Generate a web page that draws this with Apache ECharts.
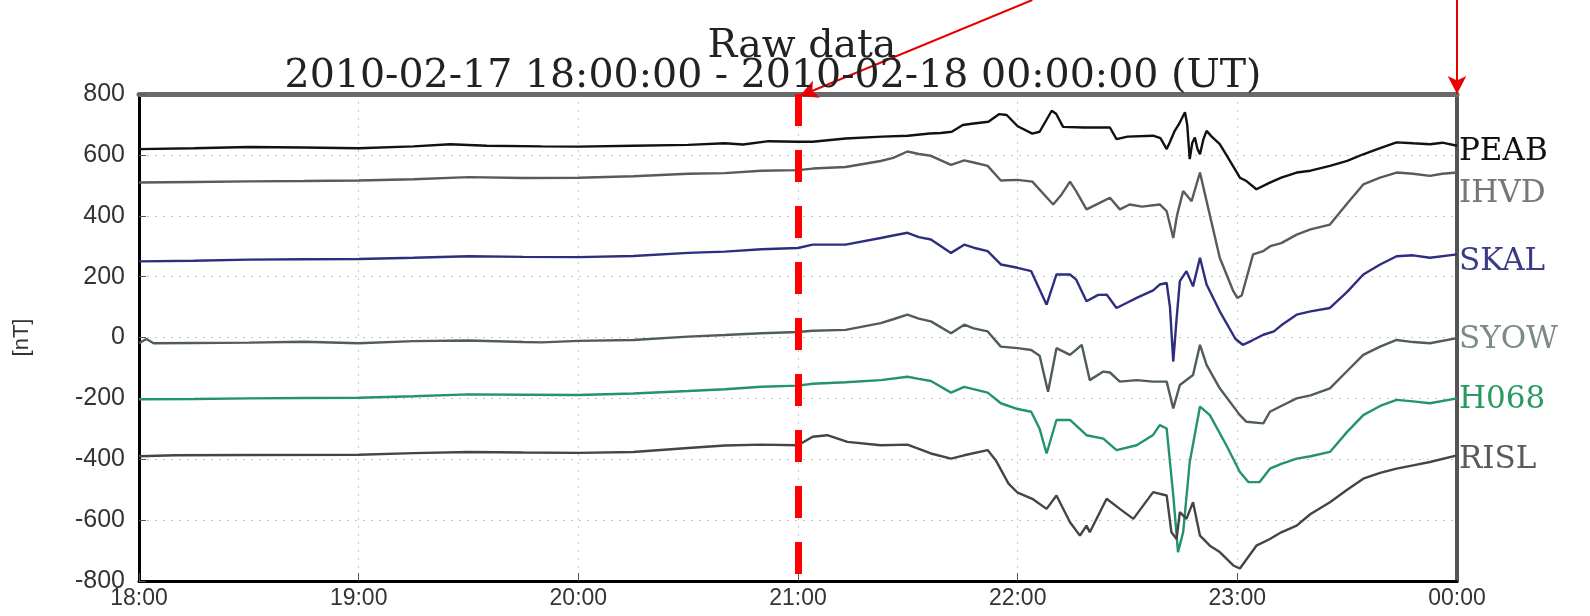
<!DOCTYPE html>
<html>
<head>
<meta charset="utf-8">
<script src="https://cdn.jsdelivr.net/npm/echarts@6/dist/echarts.min.js"></script>
<style>html,body{margin:0;padding:0;background:#fff}#c{width:1590px;height:616px}</style>
</head>
<body>
<div id="c"></div>
<script>
// x = minutes after 2010-02-17 18:00 UT
const timeTicks = ['18:00', '19:00', '20:00', '21:00', '22:00', '23:00', '00:00'];
const stationNames = ['PEAB', 'IHVD', 'SKAL', 'SYOW', 'H068', 'RISL'];

const peab = [[0,619],[15,622],[30,626],[45,624],[60,622],[75,628],[85,635],[95,630],[110,628],[120,627],[135,630],[150,633],[160,638],[165,634],[172,645],[180,643],
[184,643],[193,654],[203,660],[210,663],[216,670],[219,672],[222,676],[225,698],[228,703],[232,709],[235,734],[237,731],[240,694],[244,670],[246,676],[249.3,745],[250.5,735],[252.4,692],[258,690],[265.2,690],[267,652],[270,660],[277,663],[279,655],[280.7,619],[281.5,640],[282.9,679],[284,700],[285.7,740],[286.3,700],[287,586],[287.7,640],[288.4,657],[289.1,620],[289.8,602],[290.7,650],[291.6,679],[293,660],[295.2,635],[297,600],[300.7,525],
[302.5,514],[305.2,487],[308.9,509],[312,525],[316.2,542],[320,548],[325.3,564],[330,580],[334.4,602],[339,622],[343.5,641],[348,638],[352.6,635],[356,640],[360,630]];

const ihvd = [[0,509],[15,511],[30,513],[45,514],[60,516],[75,520],[90,527],[105,524],[120,525],[135,530],[150,538],[160,540],[170,548],[180,550],
[184,555],[193,560],[202.6,580],[206,590],[209.9,611],[213,603],[216.3,597],[221.8,567],[225.4,582],[228,575],[231.8,564],[235.4,516],[240,518],[244,512],
[249.7,437],[252,470],[254.3,512],[256,480],[258.8,421],[262,440],[265.2,459],[267.9,421],[270.6,437],[274,430],[278.8,437],[280.7,415],[282.5,327],[283.5,400],[285.2,481],[286,470],[287.5,448],[289.8,542],[291.6,448],[295.2,262],[298.9,152],[300,130],
[301.2,138],[304.3,273],[307.1,284],[309,300],[312,310],[316.2,338],[320,355],[325.3,371],[330,440],[334.4,503],[339,525],[343.5,542],[348,538],[352.6,531],[356,538],[360,542]];

const skal = [[0,250],[15,252],[30,256],[45,257],[60,258],[75,262],[90,267],[105,265],[120,264],[135,268],[150,278],[160,282],[170,290],[180,294],
[184,305],[193,305],[202.6,327],[206,335],[209.9,344],[213,330],[216.3,322],[221.8,278],[225.4,305],[228,295],[231.8,284],[235.4,240],[240,229],[243.7,218],
[247.9,108],[250.6,207],[254.3,207],[256,190],[258.8,119],[262,140],[264.3,141],[267,97],[270,115],[272.5,130],[277,155],[278.8,174],[280.7,179],[281.6,100],[282.5,-79],[283.4,60],[284.3,185],[286.1,218],[287.9,168],[289.8,262],[291.6,174],[295.2,86],[299.5,-5],
[301.5,-24],[304,-10],[307.1,9],[310,20],[312,40],[316.2,75],[320,86],[325.3,97],[330,150],[334.4,207],[339,240],[343.5,267],[348,270],[352.6,262],[360,273]];

const syow = [[0,-19],[2,-5],[4,-19],[15,-18],[30,-17],[45,-14],[60,-19],[75,-12],[90,-10],[105,-15],[110,-16],[120,-11],[135,-8],[150,3],[160,8],[170,14],[180,18],
[184,22],[193,25],[202.6,47],[206,60],[209.9,75],[213,62],[216.3,53],[221.8,14],[225.4,42],[228,30],[231.8,20],[235.4,-30],[240,-35],[243.7,-41],
[246,-60],[248.3,-178],[250.6,-35],[254.3,-57],[256,-40],[257.5,-24],[259.7,-140],[263.4,-112],[265.2,-115],[267.9,-145],[272.5,-140],[277,-145],[280.7,-145],[282.5,-233],[284.3,-156],[287.9,-123],[289.8,-24],[291.6,-90],[295.2,-167],[300.7,-255],
[302.5,-277],[307.1,-282],[308.9,-244],[312,-225],[316.2,-200],[320,-190],[325.3,-167],[330,-110],[334.4,-57],[339,-30],[343.5,-8],[348,-15],[352.6,-19],[360,-2]];

const h068 = [[0,-203],[15,-202],[30,-200],[45,-199],[60,-198],[75,-193],[90,-187],[105,-188],[120,-189],[135,-184],[150,-176],[160,-170],[170,-162],[180,-158],
[184,-152],[193,-147],[202.6,-140],[209.9,-129],[213,-136],[216.3,-143],[221.8,-181],[225.4,-162],[231.8,-181],[235.4,-216],[240,-235],[243.7,-244],
[246,-300],[247.9,-381],[250.6,-271],[254.3,-271],[258.8,-321],[263.4,-332],[267,-370],[272.5,-354],[277,-320],[278.8,-288],[280.7,-299],[282.5,-519],[283.8,-705],[285.2,-640],[287,-409],[289.8,-227],[292.5,-255],[297,-354],[300.7,-442],
[303,-475],[306.1,-475],[308.9,-431],[312,-415],[316.2,-398],[320,-390],[325.3,-376],[330,-310],[334.4,-255],[339,-225],[343.5,-205],[348,-210],[352.6,-216],[360,-200]];

const risl = [[0,-390],[10,-387],[30,-386],[60,-385],[75,-380],[90,-376],[105,-378],[120,-379],[135,-376],[150,-363],[160,-355],[170,-352],[180,-354],
[184,-326],[188,-321],[193.5,-343],[202.6,-354],[209.9,-352],[216.3,-381],[221.8,-398],[225.4,-387],[231.8,-370],[234,-403],[237.5,-480],[240,-510],[244,-530],
[247.9,-563],[250.6,-519],[254.3,-607],[257,-651],[258.8,-618],[259.7,-640],[264.3,-530],[267.9,-563],[271.6,-596],[277,-508],[280.7,-519],[282,-640],[283.4,-662],[284.3,-574],[286.1,-596],[287.9,-541],[289.8,-651],[292.5,-684],[295.2,-705],[298.9,-749],[300.7,-759],
[305.2,-684],[308.9,-662],[312,-640],[316.2,-618],[320,-580],[325.3,-541],[330,-500],[334.4,-464],[339,-445],[343.5,-431],[348,-420],[352.6,-409],[360,-387]];

const stationData = [peab, ihvd, skal, syow, h068, risl];
const lineColors = ['#111111', '#5a5a5a', '#2e2e7e', '#4f5d54', '#23946a', '#454545'];
const labelColors = ['#111111', '#777777', '#3b3b85', '#7d8c80', '#2a9a62', '#5a5a5a'];
const labelOffsets = [[0, 6], [0, 21], [0, 8], [0, 2], [0, 2], [0, 5]];

const chart = echarts.init(document.getElementById('c'), null, {renderer: 'canvas'});

const series = stationNames.map((name, i) => ({
  name: name,
  type: 'line',
  data: stationData[i],
  showSymbol: false,
  symbol: 'none',
  animation: false,
  z: 3,
  lineStyle: {color: lineColors[i], width: 2.4},
  endLabel: {
    show: true,
    formatter: name,
    color: labelColors[i],
    fontFamily: 'DejaVu Serif',
    fontSize: 31,
    distance: 2,
    offset: labelOffsets[i]
  }
}));

series.push({
  name: 'annot',
  type: 'line',
  data: [],
  clip: false,
  animation: false,
  z: 5,
  markLine: {
    silent: true,
    animation: false,
    label: {show: false},
    data: [
      [{coord: [180, 800], symbol: 'none', lineStyle: {color: '#ff0000', width: 7, type: [32, 24]}},
       {coord: [180, -800], symbol: 'none'}]
    ]
  }
});

const titleStyle = {fontFamily: 'DejaVu Serif', fontSize: 39.5, fontWeight: 'normal', color: '#222'};
const option = {
  backgroundColor: '#ffffff',
  animation: false,
  title: [{
    text: 'Raw data',
    left: 797,
    textAlign: 'center',
    top: 22,
    textStyle: titleStyle
  }, {
    text: '2010-02-17 18:00:00 - 2010-02-18 00:00:00 (UT)',
    left: 768,
    textAlign: 'center',
    top: 52,
    textStyle: titleStyle
  }],
  grid: {left: 139, right: 133, top: 94, bottom: 35, containLabel: false},
  xAxis: [{
    type: 'value',
    min: 0, max: 360, interval: 60,
    axisLine: {show: true, onZero: false, lineStyle: {color: '#000', width: 3}},
    axisTick: {show: true, inside: true, length: 8, lineStyle: {color: '#555', width: 1}},
    axisLabel: {
      formatter: v => timeTicks[Math.round(v / 60)],
      fontFamily: 'Liberation Sans', fontSize: 23, color: '#333', margin: 6
    },
    splitLine: {show: true, lineStyle: {color: '#c8c8c8', type: [2, 6], width: 1}}
  }, {
    type: 'value', position: 'top',
    min: 0, max: 360, interval: 60,
    axisLine: {show: true, onZero: false, lineStyle: {color: '#6a6a6a', width: 5}},
    axisTick: {show: false}, axisLabel: {show: false}, splitLine: {show: false}
  }],
  yAxis: [{
    type: 'value',
    min: -800, max: 800, interval: 200,
    name: '[nT]',
    nameLocation: 'middle',
    nameGap: 106,
    nameRotate: 90,
    nameTextStyle: {fontFamily: 'Liberation Sans', fontSize: 22, color: '#333'},
    axisLine: {show: true, onZero: false, lineStyle: {color: '#000', width: 3}},
    axisTick: {show: true, inside: true, length: 7, lineStyle: {color: '#555', width: 1}},
    axisLabel: {fontFamily: 'Liberation Sans', fontSize: 25, color: '#333', margin: 14},
    splitLine: {show: true, lineStyle: {color: '#c8c8c8', type: [2, 6], width: 1}}
  }, {
    type: 'value', position: 'right',
    min: -800, max: 800, interval: 200,
    axisLine: {show: true, onZero: false, lineStyle: {color: '#555', width: 4}},
    axisTick: {show: false}, axisLabel: {show: false}, splitLine: {show: false}
  }],
  series: series
};
chart.setOption(option);

// Red annotation arrows: tips located through the chart's own scales, tails at the canvas top edge
const tipA = chart.convertToPixel({xAxisIndex: 0, yAxisIndex: 0}, [180.5, 800]);
const tailA = chart.convertToPixel({xAxisIndex: 0, yAxisIndex: 0}, [244, 800]);
const tipB = chart.convertToPixel({xAxisIndex: 0, yAxisIndex: 0}, [360, 800]);
const arrowStyle = {color: '#e60000', width: 2, type: 'solid'};
chart.setOption({
  series: [{
    name: 'annot',
    markLine: {
      data: [
        [{coord: [180, 800], symbol: 'none', lineStyle: {color: '#ff0000', width: 7, type: [32, 24]}},
         {coord: [180, -800], symbol: 'none'}],
        [{x: tailA[0], y: 0, symbol: 'none', lineStyle: arrowStyle},
         {x: tipA[0], y: tipA[1] + 2, symbol: 'arrow', symbolSize: [14, 18]}],
        [{x: tipB[0], y: 0, symbol: 'none', lineStyle: arrowStyle},
         {x: tipB[0], y: tipB[1], symbol: 'arrow', symbolSize: [14, 18]}]
      ]
    }
  }]
});
</script>
</body>
</html>
